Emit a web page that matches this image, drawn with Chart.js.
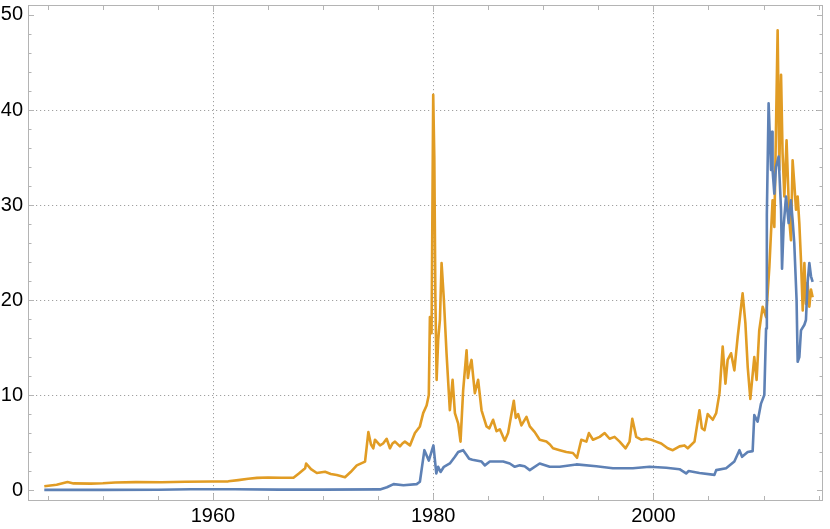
<!DOCTYPE html>
<html>
<head>
<meta charset="utf-8">
<script src="https://cdn.jsdelivr.net/npm/chart.js@4"></script>
<style>
html,body{margin:0;padding:0;background:#fff;}
#wrap{width:830px;height:529px;}
</style>
</head>
<body>
<div id="wrap"><canvas id="priceChart" width="830" height="529"></canvas></div>
<script>

// orange series (years, values)
const orangeYears = [1944.68,1945.8,1946.79,1947.33,1948.9,1950,1951.12,1953,1955.31,1957.5,1959.94,1961.39,1962.3,1963.2,1964,1965.01,1966.2,1967.31,1967.8,1968.37,1968.46,1968.9,1969.43,1970.18,1970.7,1971.24,1971.99,1972.5,1973.06,1973.81,1974.11,1974.35,1974.56,1974.71,1975.17,1975.45,1975.77,1976.07,1976.3,1976.53,1976.98,1977.2,1977.43,1977.89,1978.34,1978.79,1979.09,1979.4,1979.6,1979.7,1979.85,1980,1980.1,1980.2,1980.31,1980.45,1980.61,1980.76,1980.97,1981.21,1981.51,1981.76,1981.97,1982.27,1982.48,1982.72,1983.03,1983.15,1983.26,1983.48,1983.78,1984.08,1984.39,1984.6,1984.84,1985.1,1985.44,1985.75,1986.05,1986.5,1986.8,1987.32,1987.5,1987.71,1988.01,1988.47,1988.77,1989.22,1989.67,1990.28,1990.6,1990.88,1991.49,1992.09,1992.69,1993.06,1993.45,1993.91,1994.14,1994.51,1995.12,1995.57,1996.02,1996.47,1996.93,1997.47,1997.83,1998.08,1998.44,1998.89,1999.35,1999.8,2000.25,2000.71,2001.3,2001.76,2002.37,2002.82,2003.12,2003.73,2004.18,2004.4,2004.64,2004.93,2005.39,2005.7,2006,2006.29,2006.54,2006.74,2007.05,2007.35,2007.65,2008.1,2008.35,2008.56,2008.8,2009.16,2009.37,2009.61,2009.92,2010.23,2010.53,2010.82,2010.98,2011.19,2011.28,2011.43,2011.59,2011.73,2011.89,2012.09,2012.34,2012.49,2012.64,2012.79,2012.95,2013.1,2013.25,2013.4,2013.56,2013.71,2013.85,2014,2014.16,2014.31,2014.46];
const orangeValues = [0.40,0.56,0.84,0.70,0.68,0.72,0.80,0.84,0.82,0.88,0.90,0.92,1.05,1.19,1.28,1.32,1.30,1.30,1.75,2.3,2.8,2.2,1.8,1.93,1.7,1.58,1.35,1.9,2.6,3.0,6.1,4.8,4.4,5.3,4.7,4.9,5.4,4.4,4.9,5.1,4.6,4.9,5.1,4.7,6.0,6.7,8.1,8.9,10,18.2,16.5,41.6,35,20,11.6,15.8,17.9,23.9,20,14.4,8.4,11.6,8.1,7.0,5.1,10.5,14.7,11.8,12.6,13.7,10.2,11.6,8.4,7.6,6.7,6.5,7.4,6.2,6.4,5.2,6.0,9.4,7.6,8.0,6.8,7.7,6.7,6.1,5.3,5.1,4.8,4.4,4.2,4.0,3.9,3.4,5.3,5.1,6.0,5.3,5.6,6.0,5.4,5.6,5.1,4.4,5.1,7.5,5.6,5.3,5.4,5.3,5.1,4.9,4.4,4.2,4.6,4.7,4.4,5.1,8.4,6.5,6.3,8.0,7.4,8.1,10.2,15.1,11.2,13.7,14.4,12.6,16.1,20.7,17.6,13.0,9.6,14.0,11.6,16.8,19.3,18.2,23.5,30.5,27.7,42.1,48.4,33.7,43.7,35.4,30.9,36.8,28.4,26.3,34.7,32.3,29.5,30.9,28.1,24.2,18.9,23.9,19.6,21.8,19.3,21.1,20.3];

// blue series (years, values)
const blueYears = [1944.68,1950,1955,1958,1962,1966,1970,1975.17,1975.8,1976.4,1977.3,1978.5,1978.79,1979.2,1979.6,1980.02,1980.28,1980.45,1980.67,1980.97,1981.51,1981.97,1982.27,1982.72,1983.03,1983.26,1983.56,1984.39,1984.69,1985.14,1986.35,1986.95,1987.41,1987.86,1988.3,1988.77,1989.67,1990.58,1991.49,1993,1994.81,1996.32,1998.13,1999.65,2001.16,2002.37,2002.97,2003.2,2004.18,2005.54,2005.7,2006.6,2007.35,2007.81,2008.05,2008.56,2009.01,2009.16,2009.46,2009.77,2010.07,2010.23,2010.3,2010.46,2010.68,2010.77,2010.82,2010.98,2011.13,2011.37,2011.59,2011.68,2011.82,2012.04,2012.28,2012.49,2012.64,2012.79,2013,2013.1,2013.25,2013.4,2013.71,2013.85,2014,2014.16,2014.31,2014.46];
const blueValues = [0.02,0.02,0.03,0.08,0.08,0.05,0.05,0.07,0.3,0.63,0.5,0.63,0.87,4.2,3.1,4.7,1.75,2.45,1.9,2.45,2.8,3.5,4.0,4.2,3.7,3.3,3.2,3.0,2.6,3.0,3.0,2.8,2.45,2.6,2.5,2.1,2.8,2.45,2.45,2.7,2.5,2.3,2.3,2.45,2.35,2.2,1.75,2.0,1.8,1.6,2.1,2.3,3.0,4.2,3.5,4.0,4.1,7.9,7.2,9.1,10.0,17,29,40.7,33.7,37.7,33.7,31.2,34,35.1,29.5,23.3,27.7,30.9,28.1,30.5,28.4,26,20,13.5,14,16.8,17.4,17.9,21.8,23.9,22.5,21.9];

const xTicks = [1960,1980,2000];
const yTicks = [0,10,20,30,40,50];
const xGrid = [1960,1980,2000];
const yGrid = [10,20,30,40];

const toPoints = (xs, ys) => xs.map((x, i) => ({x: x, y: ys[i]}));

const frameColor = "#b4b4b4";

const mmaFrame = {
  id: "mmaFrame",
  beforeDatasetsDraw(chart) {
    const {ctx, chartArea: a, scales: {x, y}} = chart;
    ctx.save();
    ctx.strokeStyle = "#a0a0a0";
    ctx.lineWidth = 1;
    ctx.setLineDash([1.2, 2.8]);
    xGrid.forEach(v => {
      const px = Math.round(x.getPixelForValue(v)) + 0.5;
      ctx.beginPath(); ctx.moveTo(px, a.top); ctx.lineTo(px, a.bottom); ctx.stroke();
    });
    yGrid.forEach(v => {
      const py = Math.round(y.getPixelForValue(v)) + 0.5;
      ctx.beginPath(); ctx.moveTo(a.left, py); ctx.lineTo(a.right, py); ctx.stroke();
    });
    ctx.restore();
  },
  afterDatasetsDraw(chart) {
    const {ctx, chartArea: a, scales: {x, y}} = chart;
    ctx.save();
    ctx.strokeStyle = frameColor;
    ctx.lineWidth = 1;
    ctx.strokeRect(a.left + 0.5, a.top + 0.5, a.right - a.left - 1, a.bottom - a.top - 1);
    ctx.beginPath();
    // x ticks every 5 years, top and bottom
    for (let yr = 1945; yr <= 2015; yr += 5) {
      const px = Math.round(x.getPixelForValue(yr)) + 0.5;
      const len = xTicks.includes(yr) ? 7 : 5;
      ctx.moveTo(px, a.bottom); ctx.lineTo(px, a.bottom - len);
      ctx.moveTo(px, a.top); ctx.lineTo(px, a.top + len);
    }
    // y ticks every 2, left and right
    for (let v = 0; v <= 50; v += 2) {
      const py = Math.round(y.getPixelForValue(v)) + 0.5;
      const len = v % 10 === 0 ? 6 : 3.5;
      ctx.moveTo(a.left, py); ctx.lineTo(a.left + len, py);
      ctx.moveTo(a.right, py); ctx.lineTo(a.right - len, py);
    }
    ctx.stroke();
    ctx.restore();
  }
};

new Chart(document.getElementById("priceChart"), {
  type: "line",
  data: {
    datasets: [{
      data: toPoints(blueYears, blueValues),
      borderColor: "#5e81b5",
      borderWidth: 2.6,
      pointRadius: 0,
      tension: 0,
      borderJoinStyle: "round"
    }, {
      data: toPoints(orangeYears, orangeValues),
      borderColor: "#e19c24",
      borderWidth: 2.6,
      pointRadius: 0,
      tension: 0,
      borderJoinStyle: "round"
    }]
  },
  options: {
    responsive: false,
    animation: false,
    devicePixelRatio: 1,
    layout: {padding: {top: 5, right: 7, left: 0, bottom: 0}},
    plugins: {legend: {display: false}, tooltip: {enabled: false}},
    scales: {
      x: {
        type: "linear",
        min: 1943.2,
        max: 2015.4,
        grid: {display: false, drawTicks: false},
        border: {display: false},
        afterBuildTicks: s => { s.ticks = xTicks.map(v => ({value: v})); },
        afterFit: s => { s.height = 28; s.paddingLeft = 0; s.paddingRight = 0; },
        ticks: {
          color: "#000",
          padding: 3,
          maxRotation: 0,
          font: {family: "'Liberation Sans', Arial, sans-serif", size: 20},
          callback: v => String(v)
        }
      },
      y: {
        min: -1.15,
        max: 51.05,
        grid: {display: false, drawTicks: false},
        border: {display: false},
        afterBuildTicks: s => { s.ticks = yTicks.map(v => ({value: v})); },
        afterFit: s => { s.width = 28; s.paddingTop = 0; s.paddingBottom = 0; },
        ticks: {
          color: "#000",
          padding: 5,
          font: {family: "'Liberation Sans', Arial, sans-serif", size: 20}
        }
      }
    }
  },
  plugins: [mmaFrame]
});
</script>
</body>
</html>
